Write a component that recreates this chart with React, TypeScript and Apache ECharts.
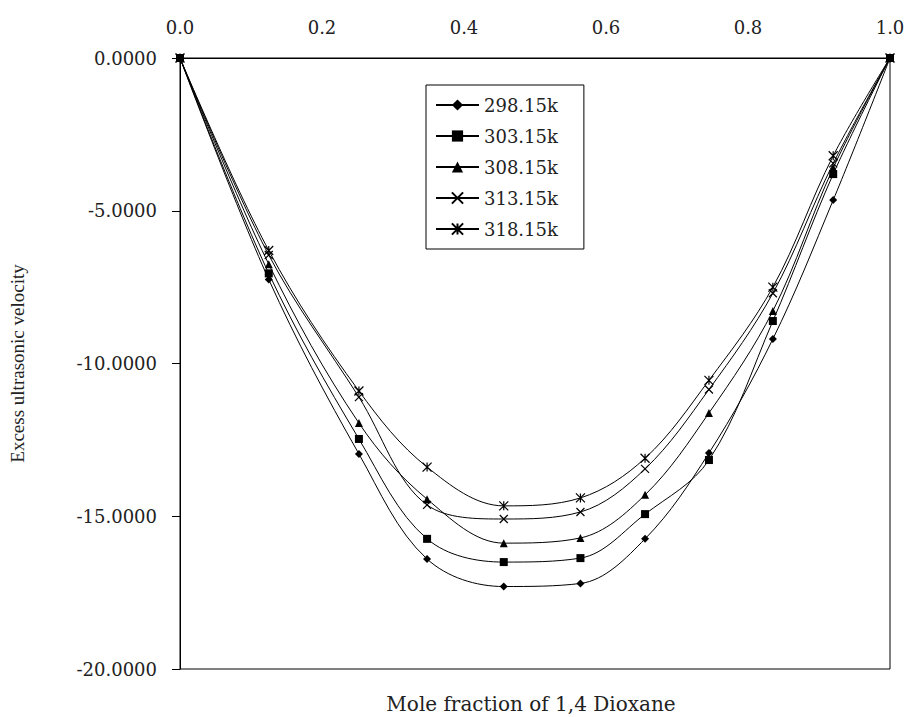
import React, { useEffect, useRef } from "react";
import * as echarts from "echarts";

const xValues = [0, 0.125, 0.252, 0.348, 0.456, 0.564, 0.655, 0.745, 0.835, 0.92, 1.0];
const seriesNames = ["298.15k", "303.15k", "308.15k", "313.15k", "318.15k"];
const t298 = [0, -7.25, -12.96, -16.4, -17.3, -17.2, -15.74, -12.93, -9.2, -4.65, 0];
const t303 = [0, -7.05, -12.47, -15.74, -16.5, -16.37, -14.93, -13.16, -8.61, -3.8, 0];
const t308 = [0, -6.75, -11.95, -14.44, -15.88, -15.71, -14.3, -11.62, -8.28, -3.6, 0];
const t313 = [0, -6.45, -11.1, -14.63, -15.09, -14.86, -13.45, -10.85, -7.7, -3.45, 0];
const t318 = [0, -6.3, -10.9, -13.39, -14.66, -14.4, -13.1, -10.55, -7.5, -3.2, 0];
const xTicks = [0, 0.2, 0.4, 0.6, 0.8, 1.0];
const yTicks = [0, -5, -10, -15, -20];

const allValues = [t298, t303, t308, t313, t318];
const symbols = [
  "diamond",
  "rect",
  "triangle",
  "path://M0,0L10,10M10,0L0,10",
  "path://M0,0L10,10M10,0L0,10M5,0L5,10",
];
const symbolSizes = [8, 8, 8, 8, 9];

export default function App() {
  const ref = useRef<HTMLDivElement>(null);
  useEffect(() => {
    if (!ref.current) return;
    const chart = echarts.init(ref.current, null, { renderer: "svg" });
    const serif = "DejaVu Serif";
    chart.setOption({
      animation: false,
      backgroundColor: "#fff",
      grid: {
        left: 175,
        right: 18,
        top: 58,
        bottom: 48,
        show: true,
        borderColor: "#000",
        borderWidth: 1,
      },
      legend: {
        orient: "vertical",
        left: 426,
        top: 85,
        data: seriesNames,
        borderColor: "#000",
        borderWidth: 1,
        padding: [10, 26, 10, 9],
        itemGap: 11,
        itemWidth: 43,
        itemHeight: 14,
        textStyle: { fontFamily: serif, fontSize: 18, lineHeight: 20, color: "#222" },
      },
      xAxis: {
        type: "value",
        position: "top",
        min: 0,
        max: 1,
        interval: 0.2,
        axisLine: { show: true, lineStyle: { color: "#000", width: 1 } },
        axisTick: { show: false },
        splitLine: { show: false },
        axisLabel: {
          margin: 22,
          fontFamily: serif,
          fontSize: 18,
          color: "#222",
          formatter: (v: number) => (xTicks.includes(Math.round(v * 10) / 10) ? v.toFixed(1) : ""),
        },
      },
      yAxis: {
        type: "value",
        min: -20,
        max: 0,
        interval: 5,
        name: "Excess ultrasonic velocity",
        nameLocation: "middle",
        nameRotate: 90,
        nameGap: 153,
        nameTextStyle: { fontFamily: "Liberation Serif", fontSize: 19, color: "#222" },
        axisLine: { show: true, lineStyle: { color: "#000", width: 1 } },
        axisTick: { show: true, inside: false, length: 8, lineStyle: { color: "#000" } },
        splitLine: { show: false },
        axisLabel: {
          margin: 23,
          fontFamily: serif,
          fontSize: 18,
          color: "#222",
          formatter: (v: number) => (yTicks.includes(Math.round(v)) ? v.toFixed(4) : ""),
        },
      },
      graphic: [
        {
          type: "text",
          x: 531,
          y: 704,
          style: {
            text: "Mole fraction of 1,4 Dioxane",
            fontFamily: serif,
            fontSize: 20,
            fill: "#222",
            textAlign: "center",
            textVerticalAlign: "middle",
          },
        },
      ],
      series: seriesNames.map((name, i) => ({
        name,
        type: "line",
        smooth: 0.35,
        data: xValues.map((x, j) => [x, allValues[i][j]]),
        symbol: symbols[i],
        symbolSize: symbolSizes[i],
        showAllSymbol: true,
        lineStyle: { color: "#000", width: 1 },
        itemStyle: { color: "#000", borderColor: "#000", borderWidth: i >= 3 ? 1.2 : 0 },
        emphasis: { disabled: true },
      })),
    });
    return () => chart.dispose();
  }, []);
  return (
    <div
      ref={ref}
      style={{ position: "absolute", left: 0, top: 0, width: 908, height: 717 }}
    />
  );
}
